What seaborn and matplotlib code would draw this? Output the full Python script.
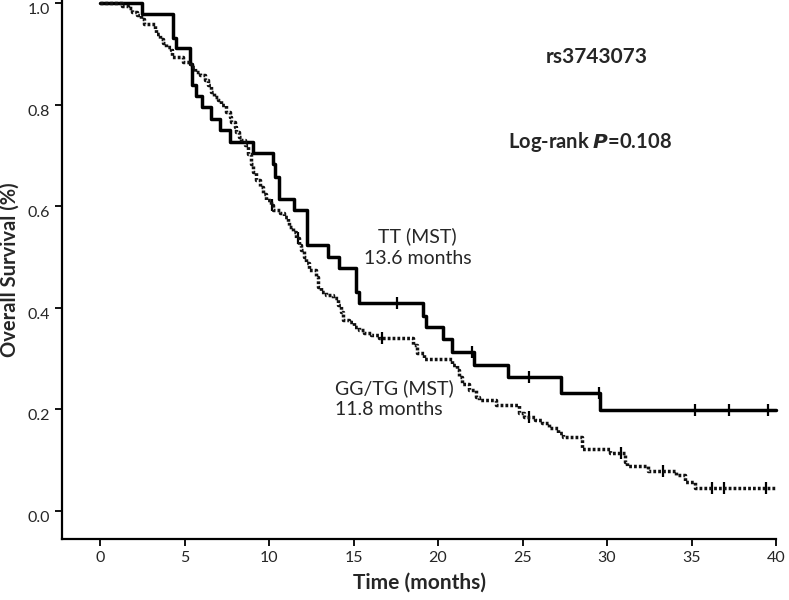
import numpy as np
import matplotlib
matplotlib.use("Agg")
import matplotlib.pyplot as plt
from matplotlib.transforms import ScaledTranslation
import seaborn as sns

# TT genotype (solid curve): step times (months) and survival
tt_time = [0, 2.46, 4.33, 4.52, 5.31, 5.45, 5.70, 6.04, 6.55, 7.08, 7.67, 9.07,
           10.23, 10.38, 10.58, 11.45, 12.23, 13.47, 14.16, 15.14, 15.34, 19.08,
           19.27, 20.3, 20.85, 22.1, 24.15, 27.3, 29.6, 40.0]
tt_surv = [1.0, 0.978, 0.932, 0.911, 0.881, 0.839, 0.817, 0.796, 0.773, 0.750,
           0.727, 0.705, 0.684, 0.658, 0.614, 0.593, 0.524, 0.501, 0.478, 0.432,
           0.409, 0.384, 0.362, 0.338, 0.314, 0.287, 0.263, 0.232, 0.199, 0.199]
tt_censor = [17.6, 22.0, 25.4, 29.5, 35.2, 37.2, 39.5]

# GG/TG genotype (dotted curve)
gg_time = [0, 1.28, 1.67, 1.91, 2.16, 2.42, 2.62, 3.24, 3.34, 3.54, 3.74, 3.93,
           4.19, 4.27, 4.92, 5.41, 5.60, 5.90, 6.19, 6.39, 6.59, 6.74, 6.98, 7.18,
           7.47, 7.67, 7.77, 7.96, 8.06, 8.20, 8.36, 8.55, 8.75, 8.95, 9.04, 9.24,
           9.44, 9.64, 9.83, 10.13, 10.25, 10.62, 10.91, 11.11, 11.21, 11.40,
           11.60, 11.76, 11.90, 12.09, 12.19, 12.39, 12.78, 12.88, 13.08, 13.37,
           13.77, 14.06, 14.26, 14.36, 14.75, 15.04, 15.34, 15.63, 16.03, 16.52,
           18.5, 18.78, 19.17, 20.85, 21.14, 21.24, 21.44, 21.83, 22.22, 22.42,
           23.4, 24.78, 25.07, 25.76, 26.16, 26.55, 27.1, 27.4, 28.5, 30.2, 31.07,
           31.17, 32.45, 34.1, 34.6, 35.2, 40.0]
gg_surv = [1.0, 0.994, 0.990, 0.983, 0.976, 0.968, 0.960, 0.950, 0.940, 0.930,
           0.922, 0.914, 0.907, 0.894, 0.884, 0.875, 0.865, 0.858, 0.848, 0.839,
           0.825, 0.816, 0.809, 0.799, 0.786, 0.776, 0.766, 0.757, 0.747, 0.737,
           0.730, 0.720, 0.704, 0.684, 0.668, 0.652, 0.638, 0.625, 0.612, 0.602,
           0.593, 0.586, 0.579, 0.570, 0.560, 0.550, 0.537, 0.524, 0.514, 0.501,
           0.488, 0.474, 0.461, 0.442, 0.432, 0.425, 0.419, 0.406, 0.392, 0.376,
           0.373, 0.363, 0.356, 0.350, 0.346, 0.341, 0.327, 0.312, 0.300, 0.287,
           0.278, 0.264, 0.251, 0.238, 0.225, 0.219, 0.209, 0.194, 0.186, 0.179,
           0.173, 0.163, 0.153, 0.146, 0.122, 0.114, 0.097, 0.089, 0.078, 0.071,
           0.058, 0.045, 0.045]
gg_censor = [10.2, 11.7, 16.7, 25.4, 30.8, 33.3, 36.2, 36.9, 39.4]

x_ticks = [0, 5, 10, 15, 20, 25, 30, 35, 40]
y_ticks = [0.0, 0.2, 0.4, 0.6, 0.8, 1.0]


def surv_at(times, surv, t):
    # survival value of a step curve at time t
    idx = np.searchsorted(times, t, side="right") - 1
    return np.asarray(surv)[idx]


sns.set_theme(style="ticks")
plt.rcParams["font.family"] = ["Lato", "DejaVu Sans"]

fig = plt.figure(figsize=(7.89, 6.0), dpi=100)
ax = fig.add_axes([0.0786, 0.1017, 0.905, 0.898])

sns.lineplot(x=tt_time, y=tt_surv, drawstyle="steps-post", estimator=None,
             color="black", linewidth=2.5, ax=ax, clip_on=False)
sns.lineplot(x=gg_time, y=gg_surv, drawstyle="steps-post", estimator=None,
             color="#111111", linewidth=2.5, linestyle=(0, (0.8, 0.6)),
             ax=ax, clip_on=False)

sns.scatterplot(x=tt_censor, y=surv_at(tt_time, tt_surv, tt_censor),
                marker="|", s=70, color="black", linewidth=1.6, ax=ax)
sns.scatterplot(x=gg_censor, y=surv_at(gg_time, gg_surv, gg_censor),
                marker="|", s=70, color="black", linewidth=1.6, ax=ax)

ax.set_xlim(-2.25, 40)
ax.set_ylim(-0.055, 1.006)
ax.set_xticks(x_ticks)
ax.set_yticks(y_ticks)
ax.set_yticklabels([f"{v:.1f}" for v in y_ticks])
ax.tick_params(axis="both", labelsize=11.5, length=5, width=1.3, color="black",
               direction="out")
# y tick labels sit a little below their ticks in the original
offset = ScaledTranslation(0, -0.055, fig.dpi_scale_trans)
for lab in ax.get_yticklabels():
    lab.set_transform(lab.get_transform() + offset)
for side in ["left", "bottom"]:
    ax.spines[side].set_linewidth(1.6)
    ax.spines[side].set_color("black")
sns.despine(ax=ax)

ax.set_xlabel("Time (months)", fontsize=15, fontweight="bold", labelpad=6)
ax.set_ylabel("Overall Survival (%)", fontsize=14.5, fontweight="bold",
              labelpad=6)

ax.text(29.4, 0.894, "rs3743073", fontsize=15, fontweight="bold",
        ha="center", va="center")
ax.text(29.0, 0.726, "Log-rank $\\bfit{P}$=0.108", fontsize=14.5,
        fontweight="bold", ha="center", va="center")
ax.text(18.8, 0.52, "TT (MST)\n13.6 months", fontsize=14, ha="center",
        va="center", linespacing=1.3)
ax.text(13.9, 0.222, "GG/TG (MST)\n11.8 months", fontsize=14, ha="left",
        va="center", linespacing=1.3)

fig.savefig("out.png", dpi=100)
